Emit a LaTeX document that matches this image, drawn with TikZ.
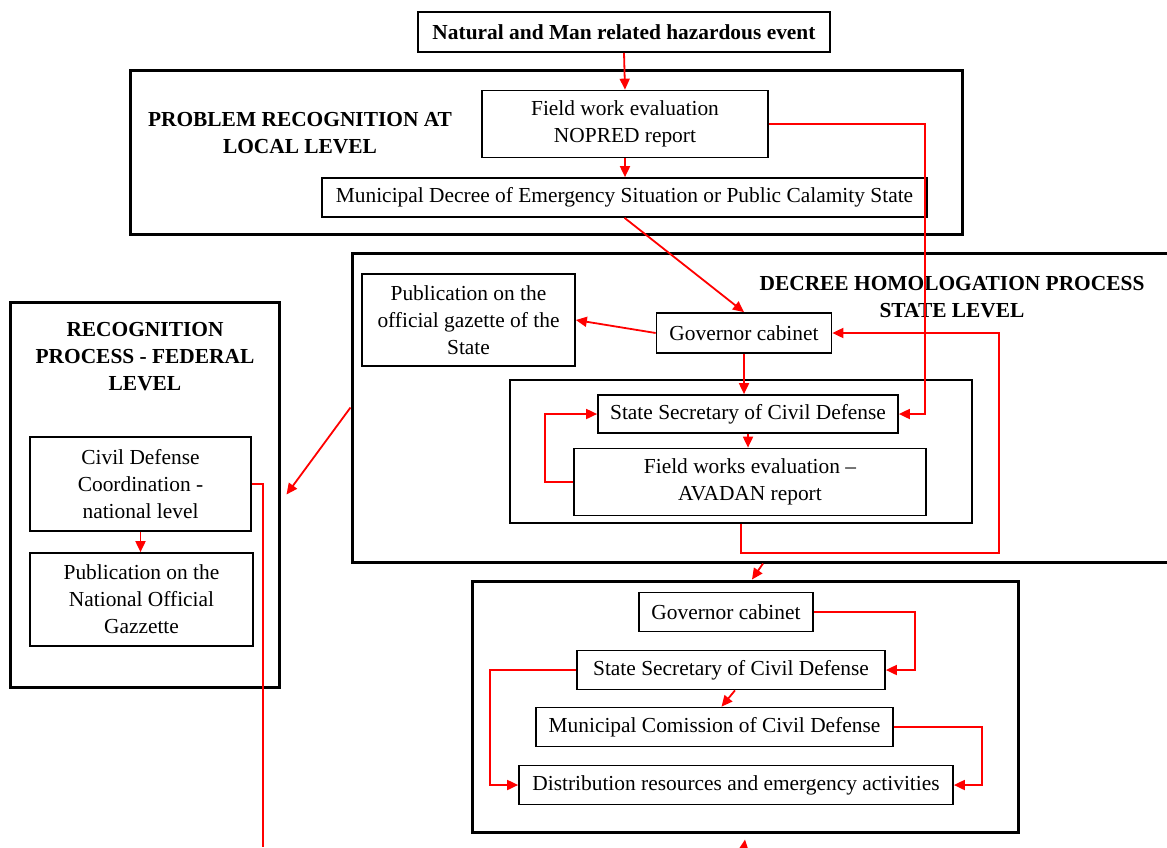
\documentclass[tikz,border=0pt]{standalone}
\usepackage{fontspec}
\setmainfont{Liberation Serif}
\usetikzlibrary{arrows.meta,calc}
\tikzset{
  fs/.style={font=\fontsize{21.4}{27}\selectfont},
  box/.style={draw, line width=1.7pt, inner sep=0pt, align=center, fs},
  frame/.style={draw, line width=3pt, inner sep=0pt},
  ttl/.style={align=center, font=\fontsize{21.4}{27}\selectfont\bfseries},
  arr/.style={red, line width=1.8pt, -{Triangle[length=11pt,width=10pt]}},
  redline/.style={red, line width=1.8pt},
}
\begin{document}
\begin{tikzpicture}[x=1pt,y=-1pt]
\useasboundingbox (0,0) rectangle (1167,847);
\fill[white] (0,0) rectangle (1167,847);
% frames
\node[frame, minimum width=832, minimum height=164] (local) at (546,152) {};
\node[frame, minimum width=820, minimum height=309] (state) at (762,407.5) {};
\node[frame, minimum width=269, minimum height=385] (fed) at (144.5,494.5) {};
\node[frame, minimum width=546, minimum height=251] (box3) at (745,706.5) {};
\node[draw, line width=1.7pt, minimum width=462, minimum height=143] (inner) at (741,451.5) {};
% titles
\node[ttl] (ltitle) at (300,133.5) {PROBLEM RECOGNITION AT\\LOCAL LEVEL};
\node[ttl] (stitle) at (952,297) {DECREE HOMOLOGATION PROCESS\\STATE LEVEL};
\node[ttl] (ftitle) at (145,357) {RECOGNITION\\PROCESS - FEDERAL\\LEVEL};
% boxes
\node[box, font=\fontsize{21.4}{27}\selectfont\bfseries, minimum width=412, minimum height=40, fill=white] (event) at (624,32) {Natural and Man related hazardous event};
\node[box, minimum width=286, minimum height=67] (field) at (625,124) {Field work evaluation\\NOPRED report};
\node[box, minimum width=605, minimum height=39] (decree) at (624.5,197.5) {Municipal Decree of Emergency Situation or Public Calamity State};
\node[box, minimum width=213, minimum height=92] (pubS) at (468.5,320) {Publication on the\\official gazette of the\\State};
\node[box, minimum width=175, minimum height=40] (govS) at (744,333) {Governor cabinet};
\node[box, minimum width=300, minimum height=38] (secS) at (748,414) {State Secretary of Civil Defense};
\node[box, minimum width=352, minimum height=67] (fieldS) at (750,482) {Field works evaluation --\\AVADAN report};
\node[box, minimum width=221, minimum height=94] (civdef) at (140.5,484) {Civil Defense\\Coordination -\\national level};
\node[box, minimum width=223, minimum height=93] (pubN) at (141.5,599.5) {Publication on the\\National Official\\Gazzette};
\node[box, minimum width=174, minimum height=39] (govM) at (726,612) {Governor cabinet};
\node[box, minimum width=308, minimum height=39] (secM) at (731,670) {State Secretary of Civil Defense};
\node[box, minimum width=357, minimum height=39] (munC) at (714.5,727) {Municipal Comission of Civil Defense};
\node[box, minimum width=434, minimum height=39] (dist) at (736,785) {Distribution resources and emergency activities};
% free ends
\coordinate (bl) at (263,847);
\coordinate (bb) at (744,847);
% connectors
\draw[arr] (event.south) -- (field.north);
\draw[arr] (field.south) -- (field.south |- decree.north);
\draw[arr] (field.east) -| ($(secS.east)+(26,0)$) -- (secS.east);
\draw[arr] (decree.south) -- (govS.north);
\draw[arr] (govS.west) -- (pubS.east);
\draw[arr] (govS.south) -- (govS.south |- secS.north);
\draw[arr] (secS.south) -- (secS.south |- fieldS.north);
\draw[arr] (fieldS.west) -- ++(-28,0) |- (secS.west);
\draw[arr] (inner.south) -- ++(0,29) -| ($(govS.east)+(167,0)$) -- (govS.east);
\draw[arr] ($(state.south)+(1,0)$) -- ($(box3.north)+(7,0)$);
\draw[arr] (state.west) -- ($(fed.east)+(6,0)$);
\draw[arr] (civdef.south) -- (civdef.south |- pubN.north);
\draw[redline] (civdef.east) -| (bl);
\draw[arr] (govM.east) -| ($(secM.east)+(29,0)$) -- (secM.east);
\draw[arr] (secM.west) -- ($(dist.west |- secM.west)+(-28,0)$) |- (dist.west);
\draw[arr] ($(secM.south)+(4,0)$) -- ($(munC.north)+(7,0)$);
\draw[arr] (munC.east) -| ($(dist.east)+(28,0)$) -- (dist.east);
\draw[arr] (bb) -- ($(box3.south)+(0,6)$);
\end{tikzpicture}
\end{document}
